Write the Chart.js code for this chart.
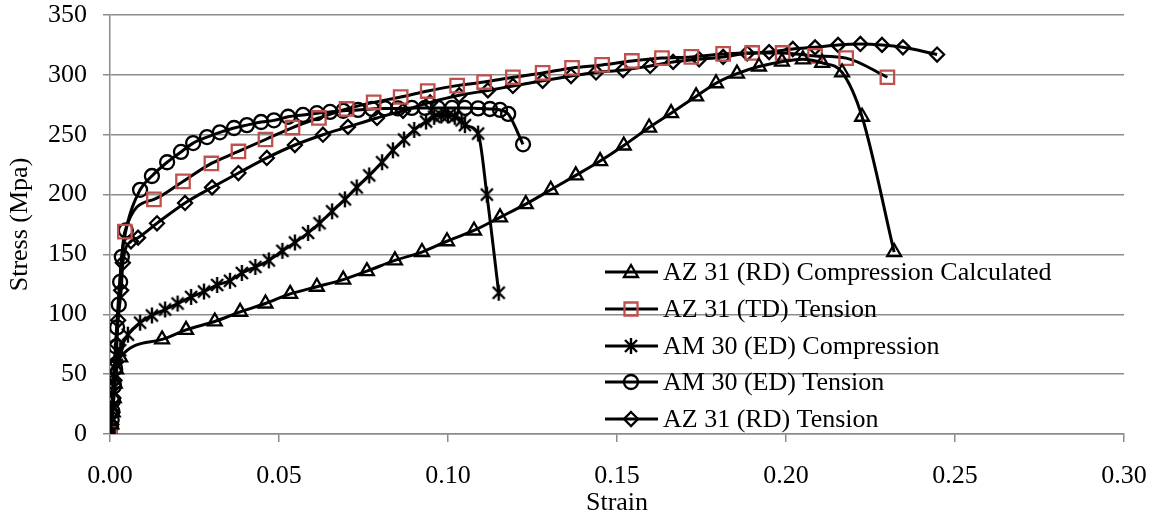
<!DOCTYPE html>
<html>
<head>
<meta charset="utf-8">
<script src="https://cdn.jsdelivr.net/npm/chart.js@4.4.1/dist/chart.umd.min.js"></script>
<style>
  html, body { margin: 0; padding: 0; background: #ffffff; }
  #wrap { width: 1158px; height: 519px; }
</style>
</head>
<body>
<div id="wrap"><canvas id="stress-chart" width="1158" height="519"></canvas></div>
<script>
// Series names (legend order)
var seriesNames = [
  "AZ 31 (RD) Compression Calculated",
  "AZ 31 (TD) Tension",
  "AM 30 (ED) Compression",
  "AM 30 (ED) Tension",
  "AZ 31 (RD) Tension"
];

// AZ 31 (RD) Compression Calculated - triangles
var az31RdCompStrain = [0, 0.0004, 0.0008, 0.0011, 0.0014, 0.0018, 0.003, 0.0154, 0.0225, 0.031, 0.0385, 0.046, 0.0533,
  0.0612, 0.069, 0.076, 0.0843, 0.0923, 0.0997, 0.1077, 0.1154, 0.123, 0.1304, 0.1378, 0.145, 0.152, 0.1595, 0.166,
  0.1734, 0.1793, 0.1855, 0.192, 0.1988, 0.205, 0.2107, 0.2166, 0.2225, 0.232];
var az31RdCompStress = [0, 8, 18, 30, 42, 54, 64, 79, 87, 94, 102, 109, 117,
  123, 129, 136, 145, 152, 161, 170, 181, 192, 204, 216, 228, 241, 256, 268,
  282, 293, 301, 307, 311, 313, 310, 302, 265, 152];

// AZ 31 (TD) Tension - red squares
var az31TdTenStrain = [0, 0.0044, 0.013, 0.0216, 0.030, 0.038, 0.046, 0.054, 0.0618, 0.070, 0.078, 0.086, 0.094,
  0.1027, 0.1107, 0.1192, 0.128, 0.1367, 0.1456, 0.1544, 0.1633, 0.172, 0.1814, 0.190, 0.199, 0.2086, 0.2178, 0.230];
var az31TdTenStress = [0, 169, 196, 211, 226, 236, 246, 256, 264, 271.5, 277, 281.5, 286.5,
  291, 294, 298, 301.6, 305.8, 308.3, 311.6, 314, 315, 317.5, 318.3, 318.3, 315.8, 314, 298];

// AM 30 (ED) Compression - asterisks
var am30CompStrain = [0, 0.0004, 0.0008, 0.0012, 0.0016, 0.002, 0.003, 0.0053, 0.0089, 0.0124, 0.0163, 0.020, 0.024,
  0.0278, 0.0317, 0.0355, 0.039, 0.043, 0.047, 0.051, 0.0547, 0.0586, 0.062, 0.0657, 0.0695, 0.073, 0.0767, 0.0805,
  0.0837, 0.087, 0.090, 0.0935, 0.0959, 0.098, 0.100, 0.102, 0.104, 0.105, 0.1089, 0.1115, 0.115];
var am30CompStress = [0, 10, 22, 35, 48, 58, 70, 83, 93, 99, 104, 109, 114.5,
  119, 124.5, 128, 134.5, 139.5, 145, 153, 160, 168, 176, 186, 196, 206, 216, 227,
  237, 246, 254, 261, 265, 266, 266, 265, 262, 258, 251, 200, 118];

// AM 30 (ED) Tension - circles
var am30TenStrain = [0, 0.0003, 0.0005, 0.0007, 0.0009, 0.0012, 0.0015, 0.0018, 0.0021, 0.0026, 0.003, 0.0035, 0.0047,
  0.0089, 0.0124, 0.0169, 0.021, 0.0246, 0.0287, 0.0325, 0.0367, 0.0405, 0.0447, 0.0485, 0.0527, 0.0571, 0.0612,
  0.0651, 0.069, 0.0734, 0.0775, 0.0814, 0.0852, 0.0893, 0.0932, 0.097, 0.1012, 0.105, 0.1089, 0.1124, 0.1154, 0.1178, 0.1222];
var am30TenStress = [0, 6, 12, 19, 28, 40, 55, 73, 89, 108, 127, 148, 170,
  204, 215.5, 227, 235.6, 243, 248, 252, 255.6, 258, 260.6, 262, 265, 266.5, 268,
  269, 270, 270.7, 271.5, 272, 272, 272.4, 272.4, 272.4, 272.4, 272.4, 272, 271.5, 270.7, 267.4, 242];

// AZ 31 (RD) Tension - diamonds
var az31RdTenStrain = [0, 0.0004, 0.0007, 0.001, 0.0013, 0.0017, 0.002, 0.0024, 0.0033, 0.0038, 0.0062, 0.0083,
  0.0139, 0.0222, 0.0302, 0.038, 0.0464, 0.0547, 0.063, 0.0704, 0.079, 0.0867, 0.0947, 0.1033, 0.1118,
  0.1192, 0.128, 0.1364, 0.1438, 0.1518, 0.1598, 0.1666, 0.1743, 0.1814, 0.1885, 0.195, 0.202, 0.2086, 0.2154,
  0.222, 0.2284, 0.2346, 0.2447];
var az31RdTenStress = [0, 8, 18, 30, 45, 60, 75, 95, 120, 143, 161, 164,
  176, 193, 206, 218, 230.6, 241.4, 250, 256.5, 264, 270, 277, 283, 287,
  290.7, 295, 299, 302, 304, 307.4, 310.8, 313, 315, 318, 319, 321.6, 323, 325,
  325.8, 325, 323, 317];

// Axis ticks
var xTicks = [0, 0.05, 0.10, 0.15, 0.20, 0.25, 0.30];
var yTicks = [0, 50, 100, 150, 200, 250, 300, 350];

var FONT = "'Liberation Serif', 'Times New Roman', serif";
var GRID = "#8c8c8c";
var RED = "#c0504d";

function toPoints(xs, ys) {
  var pts = [];
  for (var i = 0; i < xs.length; i++) {
    pts.push({ x: xs[i], y: ys[i] });
  }
  return pts;
}

// Excel-like asterisk marker: an X with a vertical stroke
function makeAsterisk() {
  var c = document.createElement("canvas");
  c.width = 18;
  c.height = 18;
  var g = c.getContext("2d");
  g.strokeStyle = "#000";
  g.lineWidth = 2.4;
  g.beginPath();
  g.moveTo(3, 3); g.lineTo(15, 15);
  g.moveTo(15, 3); g.lineTo(3, 15);
  g.moveTo(9, 1); g.lineTo(9, 17);
  g.stroke();
  return c;
}
var asterisk = makeAsterisk();

function series(label, xs, ys, style, radius, color) {
  return {
    label: label,
    data: toPoints(xs, ys),
    borderColor: "#000",
    borderWidth: 3,
    pointStyle: style,
    pointRadius: radius,
    pointHoverRadius: radius,
    pointBorderColor: color,
    pointBorderWidth: 2.3,
    pointBackgroundColor: "rgba(0,0,0,0)",
    cubicInterpolationMode: "monotone",
    fill: false
  };
}

// legend drawn like Excel: line sample with the marker in the middle
function drawMarker(ctx, style, x, y, color) {
  ctx.save();
  ctx.strokeStyle = color;
  ctx.lineWidth = 2.3;
  ctx.beginPath();
  if (style === "triangle") {
    ctx.moveTo(x, y - 7);
    ctx.lineTo(x + 7, y + 5);
    ctx.lineTo(x - 7, y + 5);
    ctx.closePath();
  } else if (style === "rect") {
    ctx.rect(x - 6.5, y - 6.5, 13, 13);
  } else if (style === "circle") {
    ctx.arc(x, y, 7, 0, Math.PI * 2);
  } else if (style === "rectRot") {
    ctx.moveTo(x, y - 7);
    ctx.lineTo(x + 7, y);
    ctx.lineTo(x, y + 7);
    ctx.lineTo(x - 7, y);
    ctx.closePath();
  }
  ctx.stroke();
  if (style instanceof HTMLCanvasElement) {
    ctx.drawImage(style, x - style.width / 2, y - style.height / 2);
  }
  ctx.restore();
}

var legendPlugin = {
  id: "excelLegend",
  afterDraw: function(chart) {
    var ctx = chart.ctx;
    var rowY = [272, 309, 346, 382, 419];
    ctx.save();
    ctx.font = "26px " + FONT;
    ctx.fillStyle = "#000";
    ctx.textBaseline = "middle";
    ctx.textAlign = "left";
    chart.data.datasets.forEach(function(ds, i) {
      var y = rowY[i];
      ctx.strokeStyle = "#000";
      ctx.lineWidth = 3;
      ctx.beginPath();
      ctx.moveTo(605, y);
      ctx.lineTo(658, y);
      ctx.stroke();
      drawMarker(ctx, ds.pointStyle, 631, y, ds.pointBorderColor);
      ctx.fillText(ds.label, 663, y + 1);
    });
    ctx.restore();
  }
};

var ctx = document.getElementById("stress-chart").getContext("2d");
var chart = new Chart(ctx, {
  type: "line",
  data: {
    datasets: [
      series(seriesNames[0], az31RdCompStrain, az31RdCompStress, "triangle", 8, "#000"),
      series(seriesNames[1], az31TdTenStrain, az31TdTenStress, "rect", 9.5, RED),
      series(seriesNames[2], am30CompStrain, am30CompStress, asterisk, 9, "#000"),
      series(seriesNames[3], am30TenStrain, am30TenStress, "circle", 7, "#000"),
      series(seriesNames[4], az31RdTenStrain, az31RdTenStress, "rectRot", 7, "#000")
    ]
  },
  options: {
    responsive: false,
    animation: false,
    events: [],
    layout: { padding: 0 },
    plugins: {
      legend: { display: false },
      tooltip: { enabled: false }
    },
    scales: {
      x: {
        type: "linear",
        min: xTicks[0],
        max: xTicks[xTicks.length - 1],
        afterBuildTicks: function(scale) {
          scale.ticks = xTicks.map(function(v) { return { value: v }; });
        },
        afterFit: function(scale) {
          scale.height = 85;
          scale.paddingLeft = 0;
          scale.paddingRight = 34;
        },
        grid: { drawOnChartArea: false, drawTicks: true, tickLength: 8, color: GRID, lineWidth: 1.5 },
        border: { color: GRID, width: 1.5 },
        ticks: {
          padding: 19,
          color: "#000",
          font: { family: FONT, size: 26 },
          callback: function(v) { return Number(v).toFixed(2); }
        },
        title: {
          display: true,
          text: "Strain",
          color: "#000",
          font: { family: FONT, size: 26 },
          padding: { top: 0, bottom: 0 }
        }
      },
      y: {
        type: "linear",
        min: yTicks[0],
        max: yTicks[yTicks.length - 1],
        afterBuildTicks: function(scale) {
          scale.ticks = yTicks.map(function(v) { return { value: v }; });
        },
        afterFit: function(scale) {
          scale.width = 110;
          scale.paddingTop = 15;
          scale.paddingBottom = 0;
        },
        grid: { drawOnChartArea: true, drawTicks: true, tickLength: 7, color: GRID, lineWidth: 1.5 },
        border: { color: GRID, width: 1.5 },
        ticks: {
          padding: 16,
          color: "#000",
          font: { family: FONT, size: 26 }
        },
        title: {
          display: true,
          text: "Stress (Mpa)",
          color: "#000",
          font: { family: FONT, size: 26 },
          padding: { top: 5, bottom: 0 }
        }
      }
    }
  },
  plugins: [legendPlugin]
});
</script>
</body>
</html>
